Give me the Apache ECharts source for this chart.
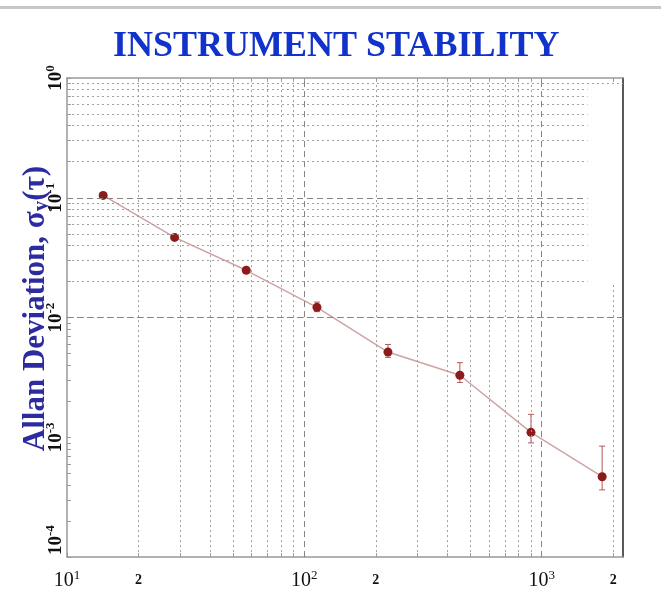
<!DOCTYPE html>
<html><head><meta charset="utf-8">
<script src="https://cdn.jsdelivr.net/npm/echarts@6/dist/echarts.min.js"></script>
<style>html,body{margin:0;padding:0;background:#fff}#c{width:661px;height:592px}</style>
</head><body><div id="c"></div>
<script>
// averaging time tau (s)
const tau = [14.2, 28.4, 56.9, 113, 225, 452, 901, 1797];
// Allan deviation
const adev = [0.1047, 0.0467, 0.0248, 0.01217, 0.00515, 0.0033, 0.0011, 0.000469];
const errLow = [0.1025, 0.0457, 0.0242, 0.0112, 0.00465, 0.00287, 0.000898, 0.000364];
const errHigh = [0.1075, 0.0478, 0.0256, 0.01346, 0.00596, 0.0042, 0.001556, 0.000844];
// axis ticks
const xLabelTicks = [10, 20, 100, 200, 1000, 2000];
const xMajor = [100, 1000];
const xMinor = [20, 30, 40, 50, 60, 70, 80, 90, 200, 300, 400, 500, 600, 700, 800, 900, 2000];
const yMajor = [0.001, 0.01, 0.1];
const yMinor = [0.0002, 0.0003, 0.0004, 0.0005, 0.0006, 0.0007, 0.0008, 0.0009,
  0.002, 0.003, 0.004, 0.005, 0.006, 0.007, 0.008, 0.009,
  0.02, 0.03, 0.04, 0.05, 0.06, 0.07, 0.08, 0.09,
  0.2, 0.3, 0.4, 0.5, 0.6, 0.7, 0.8, 0.9];

const X_MIN = 10, X_MAX = 2200, Y_MIN = 0.0001, Y_MAX = 1;
const GAP_X = 1560;   // where upper grid lines stop in the original
const GAP_Y = 0.019;

const minorStyle = { color: '#a0a0a0', width: 1, type: [2, 3] };
const majorStyle = { color: '#858585', width: 1, type: [6, 4] };

const gridLines = [];
xMinor.forEach(v => {
  if (v === 2000) gridLines.push([{ coord: [v, Y_MIN], lineStyle: minorStyle }, { coord: [v, GAP_Y] }]);
  else gridLines.push({ xAxis: v, lineStyle: minorStyle });
});
xMajor.forEach(v => gridLines.push({ xAxis: v, lineStyle: majorStyle }));
yMinor.forEach(v => {
  if (v >= 0.02 && v < 0.9) gridLines.push([{ coord: [X_MIN, v], lineStyle: minorStyle }, { coord: [GAP_X, v] }]);
  else gridLines.push({ yAxis: v, lineStyle: minorStyle });
});
yMajor.forEach(v => {
  if (v === 0.1) gridLines.push([{ coord: [X_MIN, v], lineStyle: majorStyle }, { coord: [GAP_X, v] }]);
  else gridLines.push({ yAxis: v, lineStyle: majorStyle });
});

const allXTicks = [10, 20, 30, 40, 50, 60, 70, 80, 90, 100, 200, 300, 400, 500, 600, 700, 800, 900, 1000, 2000];
const allYTicks = [0.0001].concat(yMinor.slice(0, 8), [0.001], yMinor.slice(8, 16), [0.01], yMinor.slice(16, 24), [0.1], yMinor.slice(24), [1]);

function expOf(v) { return Math.round(Math.log10(v)); }
function xLabel(v) {
  const e = expOf(v);
  const m = v / Math.pow(10, e);
  if (Math.abs(m - 1) < 1e-6) return '{b|10}{s|' + e + '}';
  return '{t|' + Math.round(m) + '}';
}
function yLabel(v) {
  const e = expOf(v);
  const s = e < 0 ? '-' + (-e) : '' + e;
  if (v === Y_MIN) return '{bb|10}{ss|' + s + '}';   // lowest label sits raised, as in the original
  return '{yb|10}{ss|' + s + '}';
}

const serif = '"Liberation Serif", "DejaVu Serif", serif';
const richX = {
  b: { fontFamily: serif, fontSize: 20, color: '#111', lineHeight: 22, verticalAlign: 'bottom' },
  s: { fontFamily: serif, fontSize: 13, color: '#111', lineHeight: 22, verticalAlign: 'top', padding: [0, 0, 8, 0] },
  t: { fontFamily: serif, fontSize: 14, fontWeight: 'bold', color: '#111', lineHeight: 22 }
};
const richY = {
  yb: { fontFamily: serif, fontSize: 19, fontWeight: 'bold', color: '#111', lineHeight: 22, verticalAlign: 'bottom' },
  bb: { fontFamily: serif, fontSize: 19, fontWeight: 'bold', color: '#111', lineHeight: 22, verticalAlign: 'bottom', padding: [0, 0, 0, 34] },
  ss: { fontFamily: serif, fontSize: 13, fontWeight: 'bold', color: '#111', lineHeight: 22, verticalAlign: 'top', padding: [0, 0, 8, 0] }
};

const nameColor = '#2c2ca0';
const chart = echarts.init(document.getElementById('c'), null, { renderer: 'canvas' });
chart.setOption({
  backgroundColor: '#fff',
  animation: false,
  graphic: [{ type: 'rect', shape: { x: 0, y: 6, width: 661, height: 3 }, style: { fill: '#c6c6c6' } }],
  title: {
    text: 'INSTRUMENT STABILITY', left: 108, top: 24,
    textStyle: { fontFamily: serif, fontWeight: 'bold', fontSize: 36, color: '#1232cc' }
  },
  grid: { left: 67, right: 38, top: 78, bottom: 32 },
  xAxis: [{
    type: 'log', logBase: 10, min: X_MIN, max: X_MAX,
    axisLine: { lineStyle: { color: '#999', width: 1.5 } },
    axisTick: { inside: true, length: 4, customValues: allXTicks, lineStyle: { color: '#999' } },
    axisLabel: { customValues: xLabelTicks, formatter: xLabel, rich: richX, margin: 12 },
    splitLine: { show: false }
  }, {
    type: 'log', logBase: 10, min: X_MIN, max: X_MAX, position: 'top',
    axisLine: { lineStyle: { color: '#999', width: 1.5 } },
    axisTick: { inside: true, length: 4, customValues: allXTicks, lineStyle: { color: '#999' } },
    axisLabel: { show: false }, splitLine: { show: false }
  }],
  yAxis: [{
    type: 'log', logBase: 10, min: Y_MIN, max: Y_MAX,
    name: '{pad|}{n|Allan Deviation, σ}{sub|y}{n|(τ)}',
    nameLocation: 'middle', nameRotate: 90, nameGap: 15, nameMoveOverlap: false,
    nameTextStyle: {
      rich: {
        pad: { width: 18, lineHeight: 32 },
        n: { fontFamily: serif, fontSize: 31, fontWeight: 'bold', color: nameColor, lineHeight: 32, verticalAlign: 'top' },
        sub: { fontFamily: serif, fontSize: 21, fontWeight: 'bold', color: nameColor, lineHeight: 32, verticalAlign: 'bottom', padding: [11, 0, 0, 0] }
      }
    },
    axisLine: { lineStyle: { color: '#999', width: 1.5 } },
    axisTick: { inside: true, length: 4, customValues: allYTicks, lineStyle: { color: '#999' } },
    axisLabel: { rotate: 90, formatter: yLabel, rich: richY, margin: 1 },
    splitLine: { show: false }
  }, {
    type: 'log', logBase: 10, min: Y_MIN, max: Y_MAX, position: 'right',
    axisLine: { lineStyle: { color: '#222', width: 1.5 } },
    axisTick: { show: false }, axisLabel: { show: false }, splitLine: { show: false }
  }],
  series: [{
    type: 'line', data: [[X_MIN, Y_MIN]], symbol: 'none', silent: true,
    lineStyle: { opacity: 0 },
    markLine: { silent: true, symbol: 'none', label: { show: false }, animation: false, data: gridLines }
  }, {
    type: 'custom',
    data: tau.map((t, i) => [t, errLow[i], errHigh[i]]),
    renderItem: (params, api) => {
      const lo = api.coord([api.value(0), api.value(1)]);
      const hi = api.coord([api.value(0), api.value(2)]);
      const w = 3;
      const st = { stroke: '#b05a5a', lineWidth: 1 };
      return { type: 'group', children: [
        { type: 'line', shape: { x1: lo[0], y1: lo[1], x2: hi[0], y2: hi[1] }, style: st },
        { type: 'line', shape: { x1: lo[0] - w, y1: lo[1], x2: lo[0] + w, y2: lo[1] }, style: st },
        { type: 'line', shape: { x1: hi[0] - w, y1: hi[1], x2: hi[0] + w, y2: hi[1] }, style: st }
      ] };
    },
    z: 3
  }, {
    type: 'line', data: tau.map((t, i) => [t, adev[i]]),
    symbol: 'circle', symbolSize: 9,
    lineStyle: { color: '#cfa3a3', width: 1.5 },
    itemStyle: { color: '#8c1c1c' },
    z: 4
  }]
});
</script></body></html>
